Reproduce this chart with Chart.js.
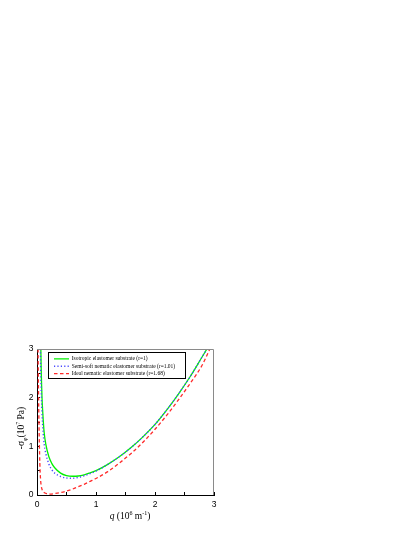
<!DOCTYPE html>
<html>
<head>
<meta charset="utf-8">
<script src="https://cdn.jsdelivr.net/npm/chart.js@4.4.1/dist/chart.umd.min.js"></script>
<style>
  html, body { margin: 0; padding: 0; background: #fff; }
  canvas { display: block; }
</style>
</head>
<body>
<canvas id="chart" width="415" height="537"></canvas>
<script>
(() => {
  "use strict";

  // Isotropic elastomer substrate (r=1)
  const qIso = [0.065, 0.07, 0.077, 0.085, 0.095, 0.105, 0.12, 0.15, 0.2, 0.25, 0.3, 0.4, 0.5, 0.6, 0.7, 0.8, 0.9, 1.0, 1.2, 1.4, 1.6, 1.8, 2.0, 2.2, 2.4, 2.6, 2.8, 2.88];
  const sIso = [3.0, 2.65, 2.3, 2.0, 1.75, 1.55, 1.3, 1.04, 0.79, 0.65, 0.56, 0.45, 0.40, 0.385, 0.39, 0.415, 0.455, 0.50, 0.63, 0.79, 0.98, 1.2, 1.45, 1.75, 2.08, 2.44, 2.84, 3.0];

  // Semi-soft nematic elastomer substrate (r=1.01)
  const qSemi = [0.058, 0.062, 0.068, 0.075, 0.083, 0.092, 0.105, 0.12, 0.15, 0.2, 0.25, 0.3, 0.4, 0.5, 0.6, 0.7, 0.8, 0.9, 1.0, 1.2, 1.4, 1.6, 1.8, 2.0, 2.2, 2.4, 2.6, 2.8, 2.88];
  const sSemi = [3.0, 2.65, 2.3, 2.0, 1.75, 1.52, 1.27, 1.06, 0.85, 0.64, 0.52, 0.45, 0.38, 0.35, 0.345, 0.36, 0.395, 0.44, 0.49, 0.63, 0.79, 0.98, 1.2, 1.45, 1.75, 2.08, 2.44, 2.84, 3.0];

  // Ideal nematic elastomer substrate (r=1.68)
  const qIdeal = [0.018, 0.022, 0.027, 0.033, 0.04, 0.048, 0.057, 0.07, 0.09, 0.12, 0.16, 0.22, 0.3, 0.4, 0.5, 0.6, 0.7, 0.8, 0.9, 1.0, 1.2, 1.4, 1.6, 1.8, 2.0, 2.2, 2.4, 2.6, 2.8, 2.93];
  const sIdeal = [3.0, 2.5, 2.0, 1.5, 1.05, 0.65, 0.38, 0.2, 0.1, 0.05, 0.03, 0.02, 0.03, 0.05, 0.08, 0.12, 0.17, 0.22, 0.28, 0.34, 0.48, 0.66, 0.86, 1.09, 1.35, 1.64, 1.96, 2.3, 2.67, 3.0];

  const seriesLabels = [
    "Isotropic elastomer substrate (r=1)",
    "Semi-soft nematic elastomer substrate (r=1.01)",
    "Ideal nematic elastomer substrate (r=1.68)"
  ];

  // ticks every 0.5, labels only on whole numbers
  const xTickValues = [0, 0.5, 1, 1.5, 2, 2.5, 3];
  const xTickLabels = ["0", "", "1", "", "2", "", "3"];
  const yTickValues = [0, 0.5, 1, 1.5, 2, 2.5, 3];
  const yTickLabels = ["0", "", "1", "", "2", "", "3"];

  const pts = (xs, ys) => xs.map((x, i) => ({ x, y: ys[i] }));
  const tickLabel = (vals, labels) => (v) => {
    const i = vals.findIndex((t) => Math.abs(t - v) < 1e-6);
    return i < 0 ? "" : labels[i];
  };

  const SERIF = "'Liberation Serif', 'Times New Roman', serif";
  const SANS = "'Liberation Sans', Arial, sans-serif";

  // plot box: left 37, right 214, top 349, bottom 495
  const AREA = { left: 37, right: 214, top: 349, bottom: 495 };

  function drawRuns(ctx, runs, cx, baseY) {
    const fontOf = (r) => `${r.italic ? "italic " : ""}${r.size}px ${SERIF}`;
    let total = 0;
    runs.forEach((r) => { ctx.font = fontOf(r); total += ctx.measureText(r.t).width; });
    let x = cx - total / 2;
    ctx.textBaseline = "alphabetic";
    ctx.textAlign = "left";
    runs.forEach((r) => {
      ctx.font = fontOf(r);
      ctx.fillText(r.t, x, baseY + (r.dy || 0));
      x += ctx.measureText(r.t).width;
    });
  }

  const axisTitles = {
    id: "axisTitles",
    afterDraw(chart) {
      const { ctx } = chart;
      ctx.save();
      ctx.fillStyle = "#000";
      drawRuns(ctx, [
        { t: "q", size: 9.5, italic: true },
        { t: " (10", size: 9.5 },
        { t: "6", size: 6, dy: -3.8 },
        { t: " m", size: 9.5 },
        { t: "-1", size: 6, dy: -3.8 },
        { t: ")", size: 9.5 }
      ], 130, 519);
      ctx.translate(24, 428);
      ctx.rotate(-Math.PI / 2);
      drawRuns(ctx, [
        { t: "-σ", size: 9.5 },
        { t: "φ", size: 6, dy: 2.5 },
        { t: "(10", size: 9.5 },
        { t: "7", size: 6, dy: -3.8 },
        { t: " Pa)", size: 9.5 }
      ], 0, 0);
      ctx.restore();
    }
  };

  const frame = {
    id: "frame",
    afterDatasetsDraw(chart) {
      const { ctx, chartArea: a } = chart;
      ctx.save();
      ctx.strokeStyle = "#8a8a8a";
      ctx.lineWidth = 1;
      ctx.beginPath();
      ctx.moveTo(a.left, a.top + 0.5);
      ctx.lineTo(a.right - 0.5, a.top + 0.5);
      ctx.lineTo(a.right - 0.5, a.bottom);
      ctx.stroke();
      ctx.restore();
    }
  };

  const legendPlace = {
    id: "legendPlace",
    afterLayout(chart) {
      const lg = chart.legend;
      if (!lg) return;
      lg.left = 52.2;
      lg.top = 354.4;
      lg.right = lg.left + lg.width;
      lg.bottom = lg.top + 40;
    },
    afterDraw(chart) {
      const lg = chart.legend;
      if (!lg) return;
      const { ctx } = chart;
      ctx.save();
      ctx.strokeStyle = "#000";
      ctx.lineWidth = 1;
      ctx.strokeRect(Math.round(lg.left - 4.2) + 0.5, Math.round(lg.top - 2.2) + 0.5, 137, 26);
      ctx.restore();
    }
  };

  // legend samples: take the dash pattern and width from the dataset line
  const legendItems = (chart) => {
    const items = Chart.defaults.plugins.legend.labels.generateLabels(chart);
    return items.map((it) => {
      const ds = chart.data.datasets[it.datasetIndex];
      return Object.assign(it, {
        lineDash: ds.borderDash || [],
        lineWidth: ds.borderWidth,
        strokeStyle: ds.borderColor,
        fillStyle: ds.borderColor
      });
    });
  };

  new Chart(document.getElementById("chart"), {
    type: "line",
    data: {
      datasets: [
        {
          label: seriesLabels[0],
          data: pts(qIso, sIso),
          borderColor: "#00f000",
          backgroundColor: "#00f000",
          borderWidth: 1.3,
          order: 2
        },
        {
          label: seriesLabels[1],
          data: pts(qSemi, sSemi),
          borderColor: "#4848ff",
          backgroundColor: "#4848ff",
          borderWidth: 1.4,
          borderDash: [1.2, 2.2],
          order: 1
        },
        {
          label: seriesLabels[2],
          data: pts(qIdeal, sIdeal),
          borderColor: "#ff2a2a",
          backgroundColor: "#ff2a2a",
          borderWidth: 1.3,
          borderDash: [3.5, 2.5],
          order: 3
        }
      ]
    },
    options: {
      responsive: false,
      animation: false,
      devicePixelRatio: 1,
      events: [],
      elements: {
        point: { radius: 0 },
        line: { cubicInterpolationMode: "monotone", fill: false }
      },
      layout: {
        padding: { left: 0, top: AREA.top, right: 415 - AREA.right, bottom: 0 }
      },
      scales: {
        x: {
          type: "linear",
          min: 0,
          max: 3,
          afterFit: (s) => { s.height = 537 - AREA.bottom; },
          afterBuildTicks: (s) => { s.ticks = xTickValues.map((v) => ({ value: v })); },
          ticks: {
            callback: tickLabel(xTickValues, xTickLabels),
            autoSkip: false,
            maxRotation: 0,
            padding: 8,
            color: "#000",
            font: { family: SANS, size: 8.5 }
          },
          grid: { drawOnChartArea: false, drawTicks: true, tickLength: -3, color: "#000", lineWidth: 1 },
          border: { display: true, color: "#000", width: 1 }
        },
        y: {
          type: "linear",
          min: 0,
          max: 3,
          afterFit: (s) => { s.width = AREA.left; },
          afterBuildTicks: (s) => { s.ticks = yTickValues.map((v) => ({ value: v })); },
          ticks: {
            callback: tickLabel(yTickValues, yTickLabels),
            autoSkip: false,
            padding: 6.5,
            color: "#000",
            font: { family: SANS, size: 8.5 }
          },
          grid: { drawOnChartArea: false, drawTicks: true, tickLength: -3, color: "#000", lineWidth: 1 },
          border: { display: true, color: "#000", width: 1 }
        }
      },
      plugins: {
        legend: {
          display: true,
          position: "chartArea",
          align: "start",
          labels: {
            usePointStyle: true,
            pointStyle: "line",
            pointStyleWidth: 15,
            boxHeight: 5.5,
            padding: 1.8,
            color: "#000",
            font: { family: SERIF, size: 5.5 },
            generateLabels: legendItems,
            sort: (a, b) => a.datasetIndex - b.datasetIndex
          }
        },
        tooltip: { enabled: false },
        title: { display: false }
      }
    },
    plugins: [frame, legendPlace, axisTitles]
  });
})();
</script>
</body>
</html>
